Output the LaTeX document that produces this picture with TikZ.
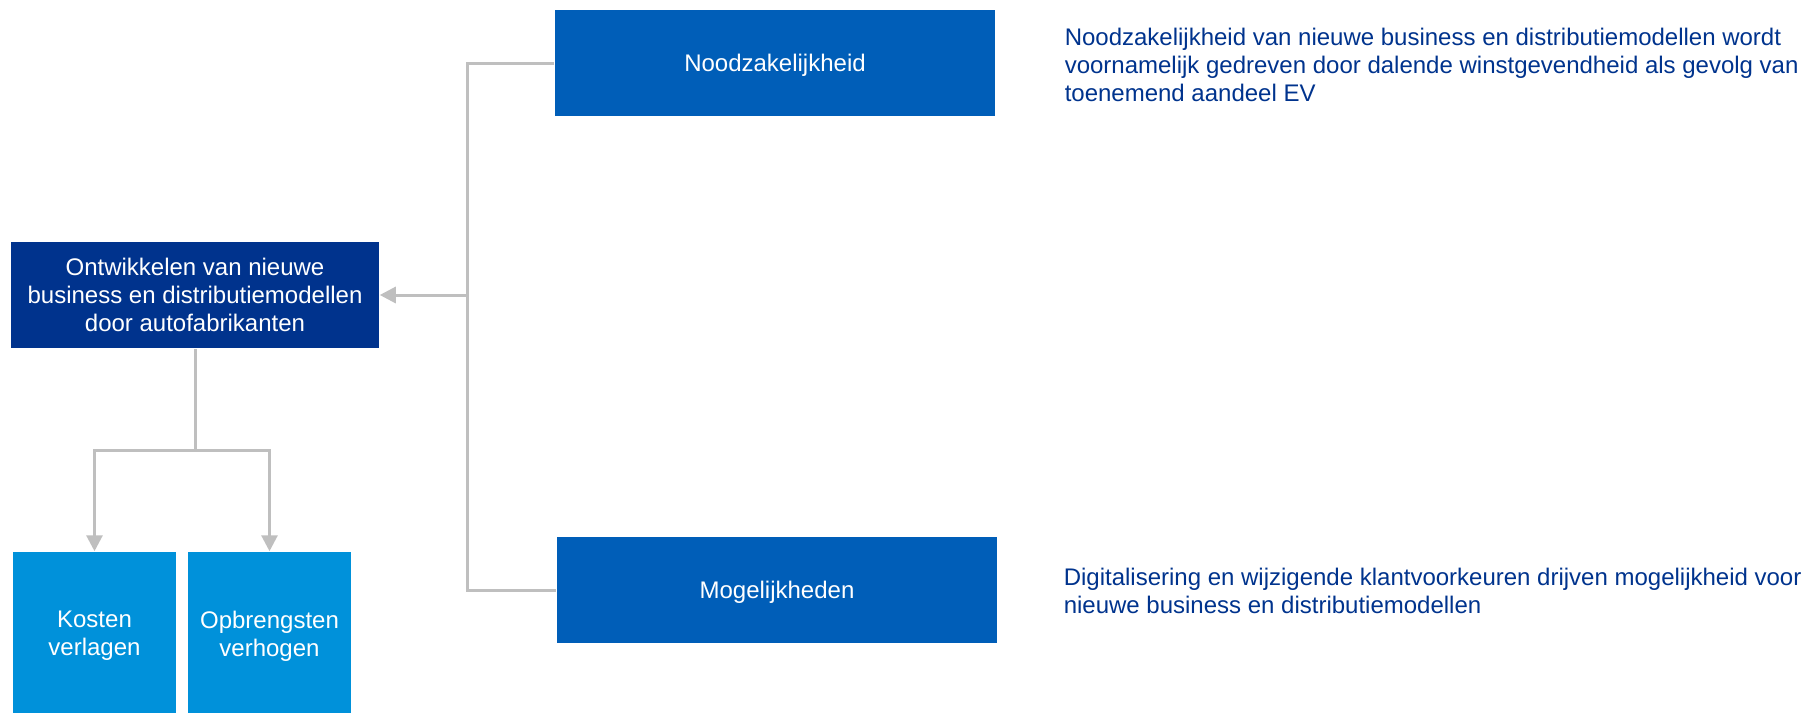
\documentclass[tikz,border=0pt]{standalone}
\usepackage{fontspec}
\setmainfont{Liberation Sans}
\usetikzlibrary{arrows.meta}

\definecolor{kdarkblue}{RGB}{0,51,141}
\definecolor{kmidblue}{RGB}{0,94,184}
\definecolor{klightblue}{RGB}{0,145,218}
\definecolor{kgray}{RGB}{191,191,191}

\tikzset{every picture/.style={line width=0.75pt}}
\tikzset{
  blok/.style={fill=kmidblue, text=white, inner sep=0pt, align=center,
    font=\fontsize{12pt}{14pt}\selectfont},
  lijn/.style={draw=kgray, line width=1.5pt},
  pijl/.style={lijn, -{Triangle[length=8pt,width=8pt]}},
  uitleg/.style={anchor=north west, inner sep=0pt, align=left, text=kdarkblue,
    font=\fontsize{12pt}{14pt}\selectfont}
}

\begin{document}
\begin{tikzpicture}[x=0.5pt,y=0.5pt,yscale=-1,xscale=1]
        \useasboundingbox (0,0) rectangle (1802,712);

        %Shape: Rectangle [main]
        \node [blok, fill=kdarkblue, minimum width=184pt, minimum height=53pt] (ontw) at (195,295) {Ontwikkelen van nieuwe\\business en distributiemodellen\\door autofabrikanten};
        %Shape: Rectangle [noodzaak]
        \node [blok, text depth=0pt, minimum width=220pt, minimum height=53pt] (nood) at (775,63) {Noodzakelijkheid};
        %Shape: Rectangle [mogelijkheden]
        \node [blok, text depth=0pt, minimum width=220pt, minimum height=53pt] (mogel) at (777,590) {Mogelijkheden};
        %Shape: Rectangle [kosten]
        \node [blok, fill=klightblue, minimum width=81.5pt, minimum height=84pt] (kosten) at (94.5,636) {Kosten\\verlagen};
        %Shape: Rectangle [opbrengsten]
        \node [blok, fill=klightblue, minimum width=81.5pt, minimum height=84pt] (opbr) at (269.5,636) {Opbrengsten\\verhogen};

        % Text Node
        \node [uitleg] (uitlegnood) at (1064,27.5) {Noodzakelijkheid van nieuwe business en distributiemodellen wordt\\voornamelijk gedreven door dalende winstgevendheid als gevolg van\\toenemend aandeel EV};
        % Text Node
        \node [uitleg] (uitlegmogel) at (1063,567.5) {Digitalisering en wijzigende klantvoorkeuren drijven mogelijkheid voor\\nieuwe business en distributiemodellen};

        %Straight Lines [trunk]
        \coordinate (stam) at (467,295);
        \draw [lijn] (nood.west) -| (stam) |- (mogel.west) ;
        \draw [pijl] (stam) -- (ontw.east) ;
        %Straight Lines [split]
        \coordinate (splits) at (195,450);
        \draw [lijn] (ontw.south) -- (splits) ;
        \draw [pijl] (splits) -| (kosten.north) ;
        \draw [pijl] (splits) -| (opbr.north) ;

    \end{tikzpicture}
\end{document}
